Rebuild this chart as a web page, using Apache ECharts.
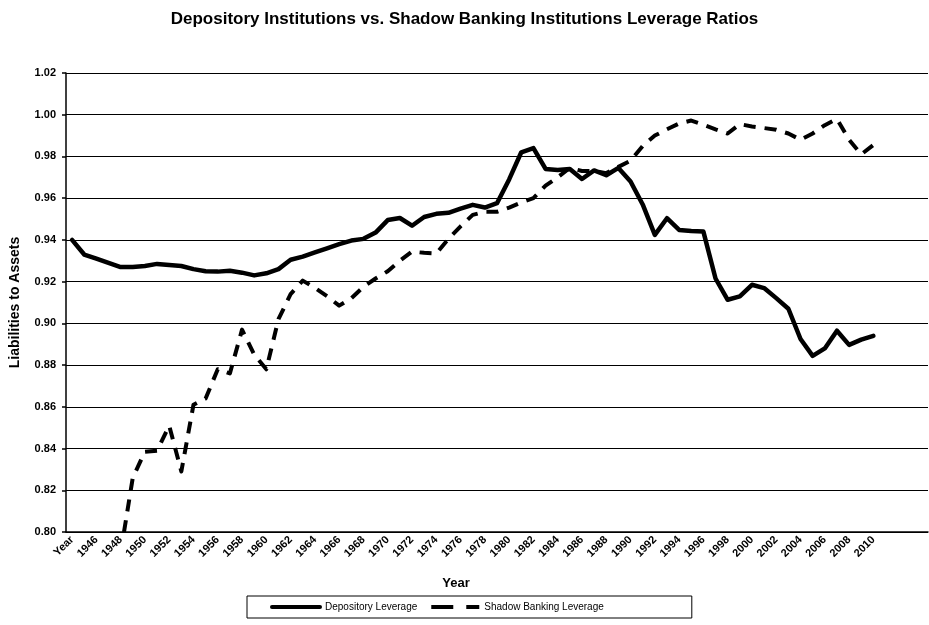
<!DOCTYPE html>
<html>
<head>
<meta charset="utf-8">
<script src="https://cdn.jsdelivr.net/npm/echarts@6/dist/echarts.min.js"></script>
<style>
html,body{margin:0;padding:0;background:#fff;}
#chart{width:929px;height:625px;}
</style>
</head>
<body>
<div id="chart"></div>
<script>
// Category labels: "Year" header row, then 1945..2010, then empty trailing categories
const years = ["Year","1945","1946","1947","1948","1949","1950","1951","1952","1953","1954",
  "1955","1956","1957","1958","1959","1960","1961","1962","1963","1964",
  "1965","1966","1967","1968","1969","1970","1971","1972","1973","1974",
  "1975","1976","1977","1978","1979","1980","1981","1982","1983","1984",
  "1985","1986","1987","1988","1989","1990","1991","1992","1993","1994",
  "1995","1996","1997","1998","1999","2000","2001","2002","2003","2004",
  "2005","2006","2007","2008","2009","2010"," ","  ","   ","    "];

const depositoryLeverage = [0.940,0.933,0.931,0.929,0.927,0.927,0.9275,0.9285,0.928,0.9275,
  0.926,0.925,0.9248,0.9252,0.9243,0.923,0.924,0.926,0.9305,0.932,
  0.934,0.936,0.938,0.9397,0.9405,0.9435,0.9495,0.9505,0.9468,0.951,
  0.9525,0.953,0.955,0.9568,0.9555,0.9576,0.969,0.982,0.984,0.974,
  0.9735,0.974,0.9692,0.9733,0.971,0.9745,0.968,0.957,0.9424,0.9504,
  0.9448,0.9443,0.944,0.9215,0.9113,0.9129,0.9185,0.9169,0.9121,0.907,
  0.8925,0.8844,0.888,0.8965,0.8897,0.8922,0.894];

const shadowBankingLeverage = [null,null,null,null,0.790,0.826,0.8385,0.839,0.851,0.829,
  0.861,0.864,0.878,0.876,0.897,0.885,0.878,0.902,0.914,0.9205,
  0.917,0.913,0.9085,0.912,0.9175,0.9215,0.925,0.930,0.9344,0.9338,
  0.9335,0.9405,0.9465,0.952,0.9535,0.9535,0.9555,0.958,0.960,0.966,
  0.970,0.9745,0.973,0.973,0.972,0.975,0.978,0.985,0.990,0.993,
  0.9958,0.9972,0.9952,0.993,0.991,0.9955,0.9944,0.9936,0.9928,0.991,
  0.988,0.991,0.995,0.998,0.988,0.981,0.9855];

const FONT = "'Liberation Sans', Arial, sans-serif";
const chart = echarts.init(document.getElementById('chart'), null, {renderer:'canvas'});
chart.setOption({
  backgroundColor: '#fff',
  animation: false,
  title: {
    text: 'Depository Institutions vs. Shadow Banking Institutions Leverage Ratios',
    left: 'center', top: 6,
    textStyle: {fontFamily: FONT, fontSize: 17, fontWeight: 'bold', color: '#000'}
  },
  legend: {
    left: 247, top: 596,
    padding: [6, 88, 6, 23],
    itemGap: 12, itemWidth: 48, itemHeight: 10,
    borderColor: '#000', borderWidth: 1,
    itemStyle: {opacity: 0},
    textStyle: {fontFamily: FONT, fontSize: 10, color: '#000'},
    data: [
      {name: 'Depository Leverage', lineStyle: {width: 4, type: 'solid'}},
      {name: 'Shadow Banking Leverage', lineStyle: {width: 4, type: [22, 13]}}
    ]
  },
  grid: {left: 63, top: 73, right: 1, bottom: 93},
  xAxis: {
    type: 'category',
    data: years,
    boundaryGap: true,
    name: 'Year', nameLocation: 'middle', nameGap: 45,
    nameTextStyle: {fontFamily: FONT, fontSize: 13, fontWeight: 'bold', color: '#000', padding: [0, 82, 0, 0]},
    axisLine: {lineStyle: {color: '#000', width: 1.5}},
    axisTick: {interval: 0, length: 5, lineStyle: {color: '#000', width: 1.5}},
    axisLabel: {interval: 1, rotate: 45, fontFamily: FONT, fontSize: 11, fontWeight: 'bold', color: '#000', margin: 6},
    splitLine: {show: false}
  },
  yAxis: {
    type: 'value', min: 0.80, max: 1.02, interval: 0.02,
    name: 'Liabilities to Assets', nameLocation: 'middle', nameGap: 44,
    nameTextStyle: {fontFamily: FONT, fontSize: 14, fontWeight: 'bold', color: '#000'},
    axisLine: {show: true, lineStyle: {color: '#000', width: 1.5}},
    axisTick: {show: true, length: 4, lineStyle: {color: '#000', width: 1.5}},
    axisLabel: {fontFamily: FONT, fontSize: 11, fontWeight: 'bold', color: '#000', margin: 10,
      formatter: v => v.toFixed(2)},
    splitLine: {lineStyle: {color: '#000', width: 1}}
  },
  series: [
    {
      name: 'Depository Leverage', type: 'line', data: depositoryLeverage,
      symbol: 'none', smooth: false,
      lineStyle: {color: '#000', width: 4.5, cap: 'round', join: 'round'},
      itemStyle: {color: '#000'}
    },
    {
      name: 'Shadow Banking Leverage', type: 'line', data: shadowBankingLeverage,
      symbol: 'none', smooth: false, connectNulls: false,
      lineStyle: {color: '#000', width: 4, type: [12, 9], cap: 'butt', join: 'round'},
      itemStyle: {color: '#000'}
    }
  ]
});
</script>
</body>
</html>
